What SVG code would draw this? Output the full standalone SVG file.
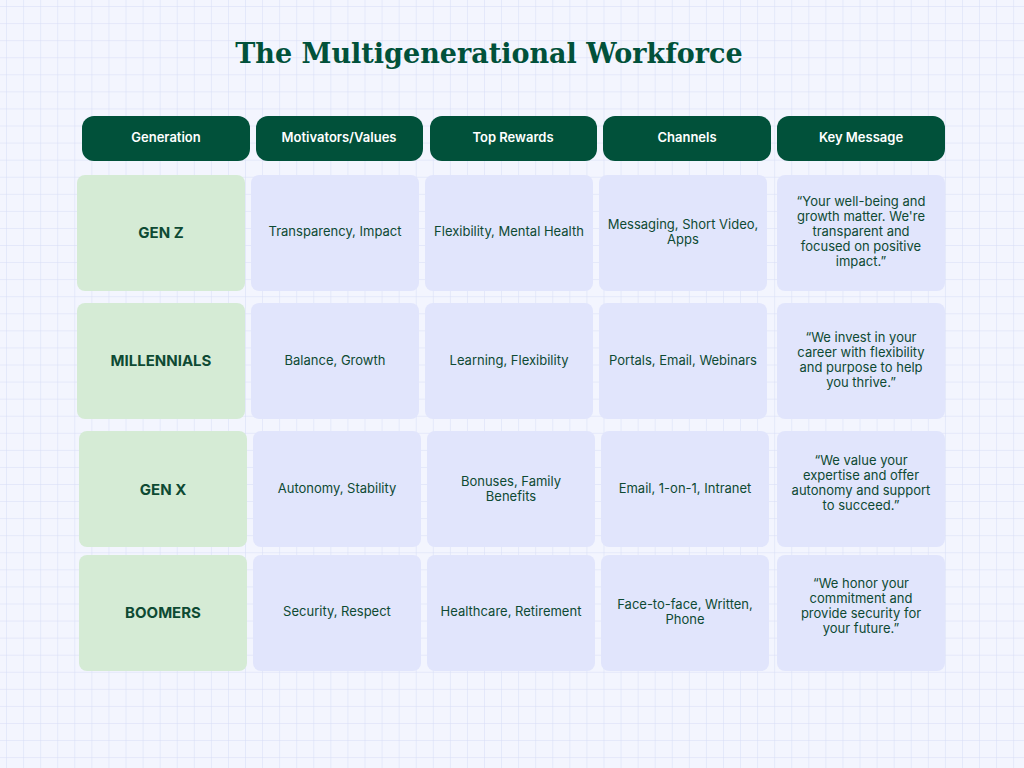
<svg xmlns="http://www.w3.org/2000/svg" width="1024" height="768" viewBox="0 0 1024 768">
<defs>
<pattern id="grid" width="17.07" height="17.07" patternUnits="userSpaceOnUse" x="7" y="7">
<path d="M17.07 0V17.07H0" fill="none" stroke="#D6DCF6" stroke-width="1"/>
</pattern>
<style>
.h{fill:#01513A}
.g{fill:#D5EBD5}
.c{fill:#E1E5FC}
.ht{font-family:"Inter","Liberation Sans",sans-serif;font-size:13px;font-weight:600;fill:#fff;text-anchor:middle}
.gt{font-family:"Inter","Liberation Sans",sans-serif;font-size:15px;font-weight:700;fill:#0E4A33;text-anchor:middle}
.ct{font-family:"Inter","Liberation Sans",sans-serif;font-size:13px;fill:#0E4A33;text-anchor:middle}
</style>
</defs>
<rect width="1024" height="768" fill="#F3F5FE"/>
<rect width="1024" height="768" fill="url(#grid)"/>
<text x="489" y="63" text-anchor="middle" font-family="'DejaVu Serif','Liberation Serif',serif" font-weight="700" font-size="27" fill="#01513A">The Multigenerational Workforce</text>
<g id="headers">
<rect class="h" x="82" y="116" width="168" height="45" rx="12"/><text class="ht" x="166" y="142">Generation</text>
<rect class="h" x="256" y="116" width="167" height="45" rx="12"/><text class="ht" x="339" y="142">Motivators/Values</text>
<rect class="h" x="430" y="116" width="167" height="45" rx="12"/><text class="ht" x="513" y="142">Top Rewards</text>
<rect class="h" x="603" y="116" width="168" height="45" rx="12"/><text class="ht" x="687" y="142">Channels</text>
<rect class="h" x="777" y="116" width="168" height="45" rx="12"/><text class="ht" x="861" y="142">Key Message</text>
</g>
<g id="row-genz">
<rect class="g" x="77" y="175" width="168" height="116" rx="8"/><text class="gt" x="161" y="238">GEN Z</text>
<rect class="c" x="251" y="175" width="168" height="116" rx="8"/><text class="ct" x="335" y="236">Transparency, Impact</text>
<rect class="c" x="425" y="175" width="168" height="116" rx="8"/><text class="ct" x="509" y="236">Flexibility, Mental Health</text>
<rect class="c" x="599" y="175" width="168" height="116" rx="8"/><text class="ct" x="683" y="229">Messaging, Short Video,</text><text class="ct" x="683" y="244">Apps</text>
<rect class="c" x="777" y="175" width="168" height="116" rx="8"/><text class="ct" x="861" y="206">“Your well-being and</text><text class="ct" x="861" y="221">growth matter. We're</text><text class="ct" x="861" y="236">transparent and</text><text class="ct" x="861" y="251">focused on positive</text><text class="ct" x="861" y="266">impact.”</text>
</g>
<g id="row-millennials">
<rect class="g" x="77" y="303" width="168" height="116" rx="8"/><text class="gt" x="161" y="366">MILLENNIALS</text>
<rect class="c" x="251" y="303" width="168" height="116" rx="8"/><text class="ct" x="335" y="365">Balance, Growth</text>
<rect class="c" x="425" y="303" width="168" height="116" rx="8"/><text class="ct" x="509" y="365">Learning, Flexibility</text>
<rect class="c" x="599" y="303" width="168" height="116" rx="8"/><text class="ct" x="683" y="365">Portals, Email, Webinars</text>
<rect class="c" x="777" y="303" width="168" height="116" rx="8"/><text class="ct" x="861" y="342">“We invest in your</text><text class="ct" x="861" y="357">career with flexibility</text><text class="ct" x="861" y="372">and purpose to help</text><text class="ct" x="861" y="387">you thrive.”</text>
</g>
<g id="row-genx">
<rect class="g" x="79" y="431" width="168" height="116" rx="8"/><text class="gt" x="163" y="495">GEN X</text>
<rect class="c" x="253" y="431" width="168" height="116" rx="8"/><text class="ct" x="337" y="493">Autonomy, Stability</text>
<rect class="c" x="427" y="431" width="168" height="116" rx="8"/><text class="ct" x="511" y="486">Bonuses, Family</text><text class="ct" x="511" y="501">Benefits</text>
<rect class="c" x="601" y="431" width="168" height="116" rx="8"/><text class="ct" x="685" y="493">Email, 1-on-1, Intranet</text>
<rect class="c" x="777" y="431" width="168" height="116" rx="8"/><text class="ct" x="861" y="465">“We value your</text><text class="ct" x="861" y="480">expertise and offer</text><text class="ct" x="861" y="495">autonomy and support</text><text class="ct" x="861" y="510">to succeed.”</text>
</g>
<g id="row-boomers">
<rect class="g" x="79" y="555" width="168" height="116" rx="8"/><text class="gt" x="163" y="618">BOOMERS</text>
<rect class="c" x="253" y="555" width="168" height="116" rx="8"/><text class="ct" x="337" y="616">Security, Respect</text>
<rect class="c" x="427" y="555" width="168" height="116" rx="8"/><text class="ct" x="511" y="616">Healthcare, Retirement</text>
<rect class="c" x="601" y="555" width="168" height="116" rx="8"/><text class="ct" x="685" y="609">Face-to-face, Written,</text><text class="ct" x="685" y="624">Phone</text>
<rect class="c" x="777" y="555" width="168" height="116" rx="8"/><text class="ct" x="861" y="588">“We honor your</text><text class="ct" x="861" y="603">commitment and</text><text class="ct" x="861" y="618">provide security for</text><text class="ct" x="861" y="633">your future.”</text>
</g>
</svg>
